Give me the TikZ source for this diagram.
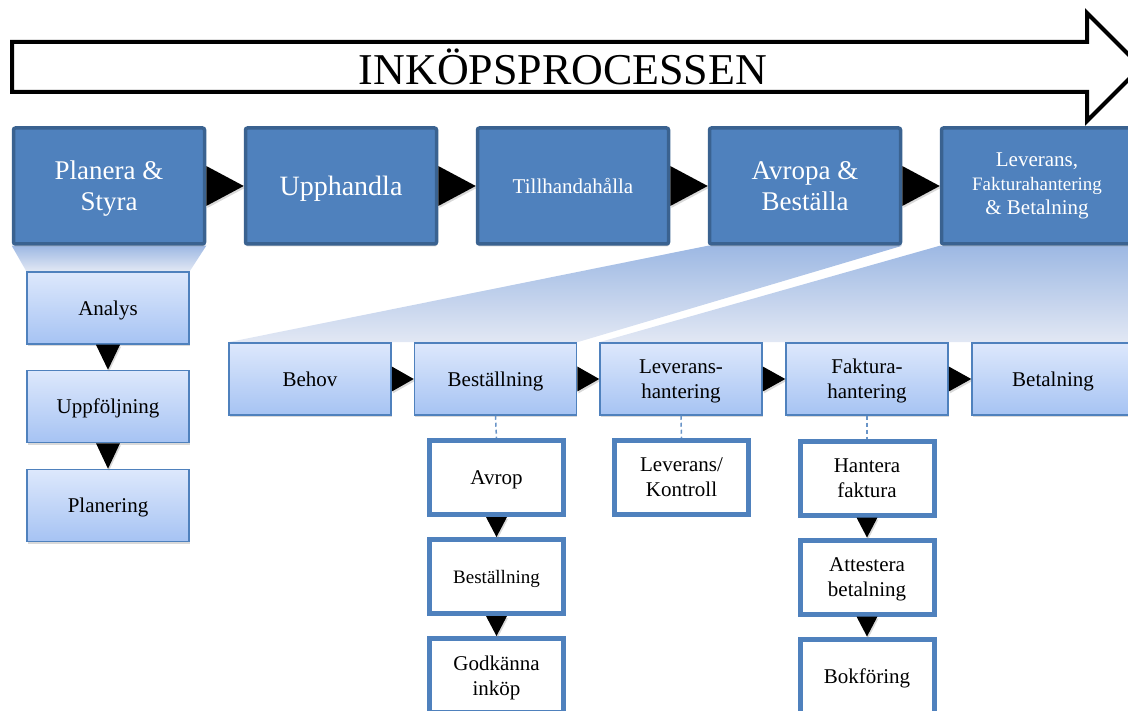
\documentclass[tikz,border=0pt]{standalone}
\usepackage{fontspec}
\setmainfont{Liberation Serif}
\usetikzlibrary{shadows,calc,backgrounds}

\definecolor{phasefill}{HTML}{4F81BD}
\definecolor{phaseedge}{HTML}{3A6290}
\definecolor{stagetop}{HTML}{DDE8FC}
\definecolor{stagebot}{HTML}{A6C3F3}
\definecolor{taskedge}{HTML}{4F81BD}
\definecolor{fantop}{HTML}{9DB8E3}
\definecolor{fanbot}{HTML}{E2E8F4}

\tikzset{
  phase/.style={rectangle, rounded corners=2pt, fill=phasefill, draw=phaseedge,
    line width=3.5pt, minimum width=191pt, minimum height=116pt, text=white,
    align=center, inner sep=0pt, text depth=0pt,
    drop shadow={opacity=0.35, shadow xshift=0.5pt, shadow yshift=-2.5pt}},
  stagebox/.style={rectangle, draw=taskedge, line width=1.5pt,
    top color=stagetop, bottom color=stagebot,
    minimum width=162pt, minimum height=72pt, align=center, inner sep=0pt,
    text depth=0pt, font=\fontsize{21}{25}\selectfont,
    drop shadow={opacity=0.3, shadow xshift=0.5pt, shadow yshift=-2pt}},
  taskbox/.style={rectangle, draw=taskedge, line width=5pt, fill=white,
    minimum width=134pt, minimum height=74pt, align=center, inner sep=0pt,
    text depth=0pt, font=\fontsize{21}{25}\selectfont,
    drop shadow={opacity=0.2, shadow xshift=0.5pt, shadow yshift=-1.5pt}},
  tri/.style={fill=black,
    drop shadow={opacity=0.3, shadow xshift=1pt, shadow yshift=-2pt}},
  link/.style={draw=taskedge!85, line width=1.5pt, dash pattern=on 4pt off 3pt},
  fan/.style={top color=fantop, bottom color=fanbot, draw=none},
}

\begin{document}
\begin{tikzpicture}[x=1pt, y=-1pt]
\useasboundingbox (0,0) rectangle (1128,711);

% process arrow
\draw[line width=4pt, miter limit=10] (12,42) -- (1087,42) -- (1087,13) -- (1141,67)
  -- (1087,121) -- (1087,92) -- (12,92) -- cycle;
\node[anchor=base, inner sep=0pt, font=\fontsize{44}{50}\selectfont] (title)
  at (563,85) {INKÖPSPROCESSEN};

% main phases
\node[phase, font=\fontsize{27}{31}\selectfont] (p1) at (109,186) {Planera \&\\Styra};
\node[phase, font=\fontsize{28}{31}\selectfont] (p2) at (341,186) {Upphandla};
\node[phase, font=\fontsize{21}{25}\selectfont] (p3) at (573,186) {Tillhandahålla};
\node[phase, font=\fontsize{27}{31}\selectfont] (p4) at (805,186) {Avropa \&\\Beställa};
\node[phase, text depth=, font=\fontsize{21}{24}\selectfont] (p5) at (1037,186)
  {Leverans,\\{\fontsize{19}{24}\selectfont Fakturahantering}\\\& Betalning};

% planning stages
\node[stagebox] (analys) at (108,308) {Analys};
\node[stagebox] (uppf) at (108,406.5) {Uppföljning};
\node[stagebox] (plan) at (108,505.5) {Planering};

% ordering and payment stages
\node[stagebox] (behov) at (310,379) {Behov};
\node[stagebox] (best) at (495.5,379) {Beställning};
\node[stagebox] (lev) at (681,379) {Leverans-\\hantering};
\node[stagebox] (fakt) at (867,379) {Faktura-\\hantering};
\node[stagebox] (betal) at (1053,379) {Betalning};

% fans linking phases to their stages, behind the boxes
\begin{pgfonlayer}{background}
\shade[fan] (p1.south west) -- (p1.south east) -- (analys.north east) -- (analys.north west) -- cycle;
\shade[fan] (p4.south west) -- (p4.south east) -- (best.north east) -- (behov.north west) -- cycle;
\shade[fan] (p5.south west) -- (1140,246) -- (1140,342) -- (lev.north west) -- cycle;
\end{pgfonlayer}

% tasks
\node[taskbox] (avrop) at (496.5,477.5) {Avrop};
\node[taskbox, font=\fontsize{19}{23}\selectfont] (tbest) at (496.5,576.5) {Beställning};
\node[taskbox] (godk) at (496.5,675.5) {Godkänna\\inköp};
\node[taskbox] (kontr) at (681.5,477.5) {Leverans/\\Kontroll};
\node[taskbox] (hant) at (867,478) {Hantera\\faktura};
\node[taskbox] (attest) at (867,577) {Attestera\\betalning};
\node[taskbox] (bokf) at (867,676) {Bokföring};

% dashed links from stages to tasks
\draw[link] (best.south) -- (avrop.north);
\draw[link] (lev.south) -- (kontr.north);
\draw[link] (fakt.south) -- (hant.north);

% flow triangles between phases
\foreach \a/\b in {p1/p2, p2/p3, p3/p4, p4/p5}
  \fill[tri] ($(\a.east)+(0,-20)$) -- ($(\a.east)+(0,20)$) -- (\b.west) -- cycle;

% flow triangles between stages
\foreach \a/\b in {behov/best, best/lev, lev/fakt, fakt/betal}
  \fill[tri] ($(\a.east)+(0,-12.5)$) -- ($(\a.east)+(0,12.5)$) -- (\b.west) -- cycle;

% downward flow triangles
\foreach \a/\b in {analys/uppf, uppf/plan}
  \fill[tri] ($(\a.south)+(-12,0)$) -- ($(\a.south)+(12,0)$) -- (\b.north) -- cycle;
\foreach \a/\b in {avrop/tbest, tbest/godk, hant/attest, attest/bokf}
  \fill[tri] ($(\a.south)+(-10.5,0)$) -- ($(\a.south)+(10.5,0)$) -- (\b.north) -- cycle;
\end{tikzpicture}
\end{document}
